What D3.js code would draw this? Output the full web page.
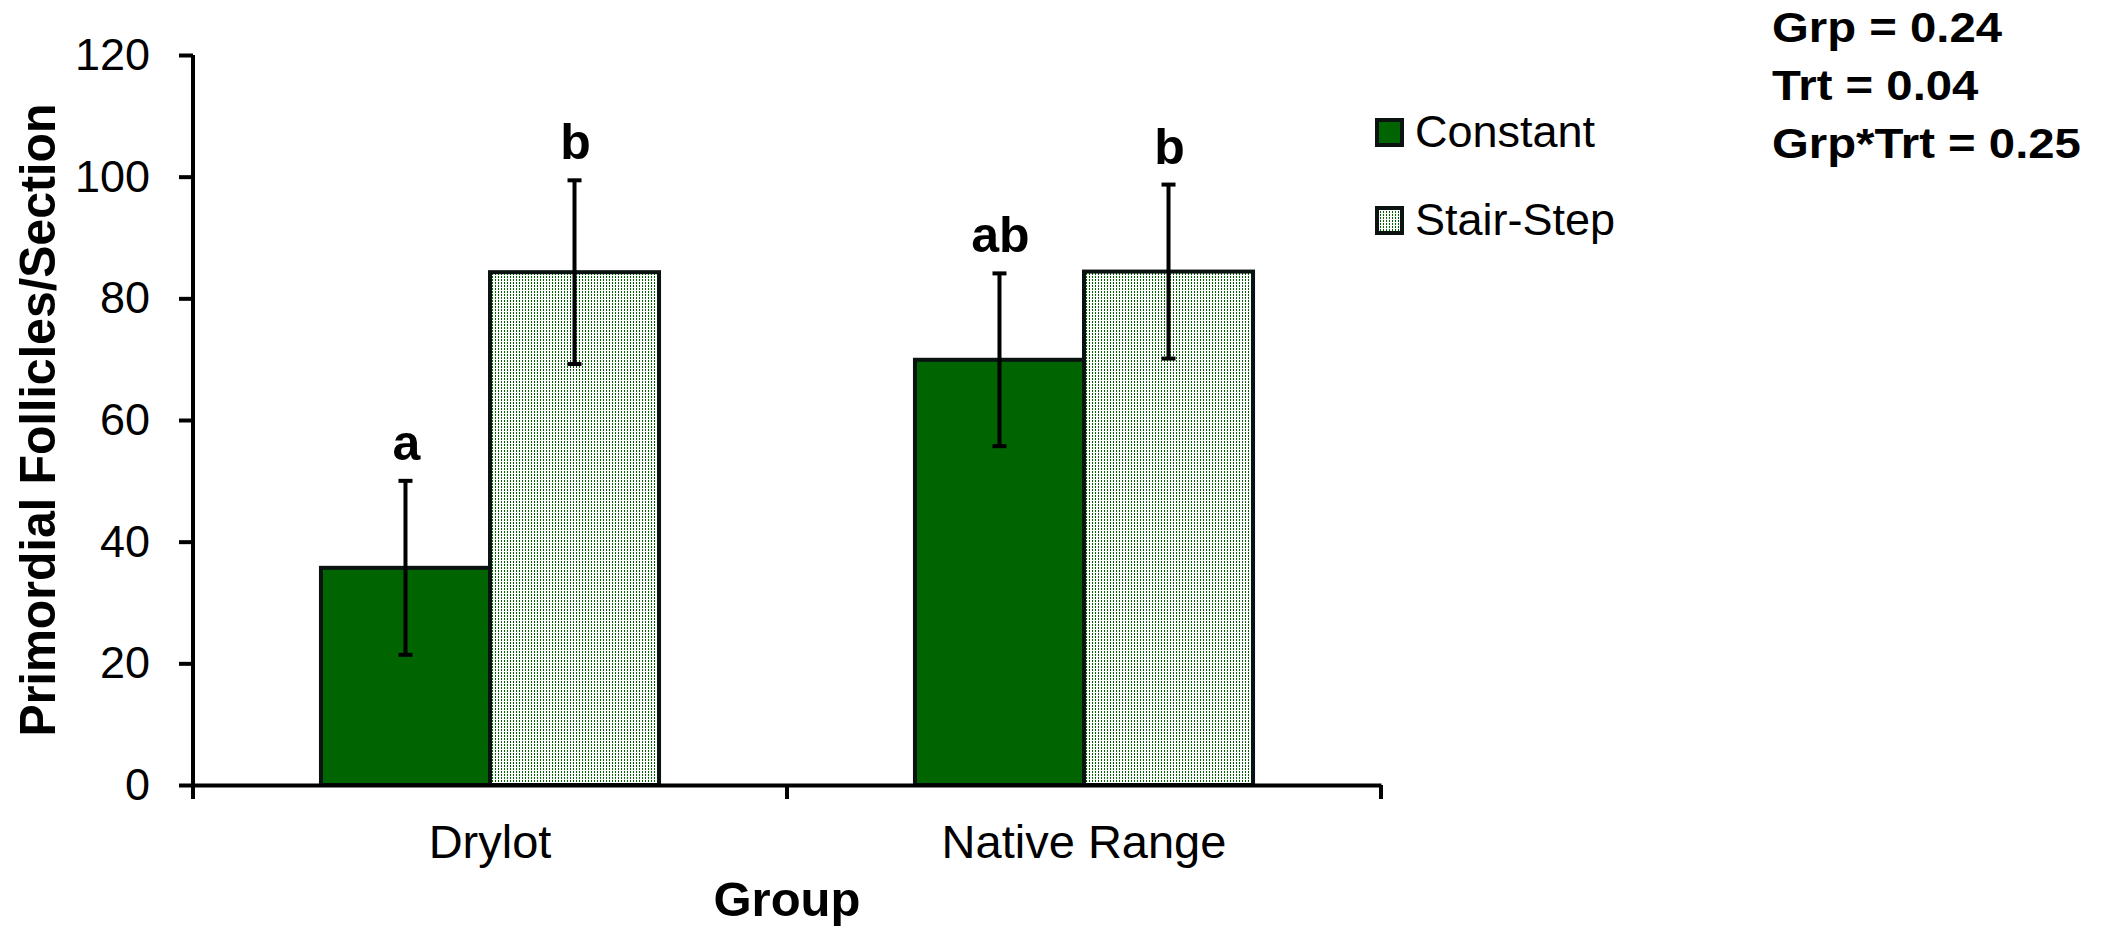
<!DOCTYPE html>
<html>
<head>
<meta charset="utf-8">
<script src="https://cdn.jsdelivr.net/npm/d3@7"></script>
<style>
  body { margin: 0; background: #fff; }
  text { font-family: Arial, "Liberation Sans", sans-serif; fill: #000; }
</style>
</head>
<body>
<svg id="chart" width="2111" height="930"></svg>
<script>
// data
var groups = ["Drylot", "Native Range"];
var series = ["Constant", "Stair-Step"];
var constantMeans = [35.7, 69.9];
var constantSE = [14.3, 14.2];
var stairMeans = [84.3, 84.4];
var stairSE = [15.1, 14.3];
var letters = [["a", "b"], ["ab", "b"]];
var yTicks = [0, 20, 40, 60, 80, 100, 120];
var stats = ["Grp = 0.24", "Trt = 0.04", "Grp*Trt = 0.25"];

var green = "#006400";

svg = d3.select("#chart");

// dotted fill for the stair-step bars
defs = svg.append("defs");
pat = defs.append("pattern")
    .attr("id", "dots")
    .attr("patternUnits", "userSpaceOnUse")
    .attr("width", 3).attr("height", 3);
pat.append("rect").attr("width", 3).attr("height", 3).attr("fill", "#fff");
pat.append("rect").attr("width", 1).attr("height", 2).attr("fill", green);

var y = d3.scaleLinear().domain([0, 120]).range([785, 55]);
var x0 = d3.scaleBand().domain(groups).range([193, 1381]).padding(0);
var x1 = d3.scaleBand().domain(series).range([0, x0.bandwidth()])
    .paddingInner(0).paddingOuter(0.757);

// flatten into one row per bar
var data = [];
groups.forEach(function(g, i) {
  data.push({ g: g, s: series[0], v: constantMeans[i], se: constantSE[i], lab: letters[i][0] });
  data.push({ g: g, s: series[1], v: stairMeans[i], se: stairSE[i], lab: letters[i][1] });
});
var fillFor = function(s) { return s == "Constant" ? green : "url(#dots)"; };
var cx = function(d) { return x0(d.g) + x1(d.s) + x1.bandwidth() / 2; };

// bars
svg.selectAll("rect.bar").data(data).enter().append("rect")
    .classed("bar", true)
    .attr("x", function(d) { return x0(d.g) + x1(d.s); })
    .attr("y", function(d) { return y(d.v); })
    .attr("width", x1.bandwidth())
    .attr("height", function(d) { return y(0) - y(d.v); })
    .attr("fill", function(d) { return fillFor(d.s); })
    .attr("stroke", "#0a1212")
    .attr("stroke-width", 4);

// error bars
err = svg.append("g").attr("stroke", "#000").attr("stroke-width", 4);
err.selectAll("line.stem").data(data).enter().append("line")
    .attr("x1", cx).attr("x2", cx)
    .attr("y1", function(d) { return y(d.v + d.se); })
    .attr("y2", function(d) { return y(d.v - d.se); });
[1, -1].forEach(function(sign) {
  err.selectAll("line.cap" + sign).data(data).enter().append("line")
      .attr("x1", function(d) { return cx(d) - 7; })
      .attr("x2", function(d) { return cx(d) + 7; })
      .attr("y1", function(d) { return y(d.v + sign * d.se); })
      .attr("y2", function(d) { return y(d.v + sign * d.se); });
});

// significance letters
svg.selectAll("text.letter").data(data).enter().append("text")
    .attr("x", function(d) { return cx(d) + 1; })
    .attr("y", function(d) { return y(d.v + d.se) - 21; })
    .attr("text-anchor", "middle")
    .attr("font-weight", "bold")
    .attr("font-size", 50)
    .text(function(d) { return d.lab; });

// y axis
yAxis = svg.append("g")
    .attr("transform", "translate(193,0)")
    .call(d3.axisLeft(y).tickValues(yTicks).tickSize(14).tickSizeOuter(0).tickPadding(29));
yAxis.selectAll("path, line").attr("stroke", "#000").attr("stroke-width", 4);
yAxis.select(".domain").attr("d", "M0," + y(120) + "V" + y(0));
yAxis.selectAll("text").attr("font-size", 45).attr("font-family", "Arial, 'Liberation Sans', sans-serif").attr("fill", "#000");

// x axis: labels centred in bands, ticks on band edges
xAxis = svg.append("g")
    .attr("transform", "translate(0," + y(0) + ")")
    .call(d3.axisBottom(x0).tickSize(0).tickPadding(40));
xAxis.select(".domain").attr("stroke", "#000").attr("stroke-width", 4);
xAxis.selectAll("text").attr("font-size", 47).attr("font-family", "Arial, 'Liberation Sans', sans-serif").attr("fill", "#000")
    .attr("dy", "0.71em");
var edges = [x0(groups[0])].concat(groups.map(function(g) { return x0(g) + x0.bandwidth(); }));
xAxis.selectAll("line.edge").data(edges).enter().append("line")
    .attr("x1", function(d) { return d; }).attr("x2", function(d) { return d; })
    .attr("y1", 0).attr("y2", 14)
    .attr("stroke", "#000").attr("stroke-width", 4);

// axis titles
svg.append("text")
    .attr("transform", "translate(55," + (y(0) + y(120)) / 2 + ") rotate(-90)")
    .attr("text-anchor", "middle")
    .attr("font-weight", "bold")
    .attr("font-size", 50)
    .attr("textLength", 633)
    .attr("lengthAdjust", "spacingAndGlyphs")
    .text("Primordial Follicles/Section");
svg.append("text")
    .attr("x", (x0.range()[0] + x0.range()[1]) / 2)
    .attr("y", 916)
    .attr("text-anchor", "middle")
    .attr("font-weight", "bold")
    .attr("font-size", 49)
    .text("Group");

// legend
legend = svg.selectAll("g.legend").data(series).enter().append("g")
    .classed("legend", true)
    .attr("transform", function(d, i) { return "translate(1377," + (120 + i * 88) + ")"; });
legend.append("rect")
    .attr("width", 25).attr("height", 25)
    .attr("fill", function(d) { return fillFor(d); })
    .attr("stroke", "#0a1212").attr("stroke-width", 4);
legend.append("text")
    .attr("x", 38).attr("y", 27)
    .attr("font-size", 45)
    .text(function(d) { return d; });

// p-values, a little wider than plain Arial in the original
svg.selectAll("text.stat").data(stats).enter().append("text")
    .attr("x", 1772)
    .attr("y", function(d, i) { return 42 + i * 58; })
    .attr("font-weight", "bold")
    .attr("font-size", 43)
    .text(function(d) { return d; })
    .each(function() {
      var w = this.getComputedTextLength();
      d3.select(this).attr("textLength", w * 1.1).attr("lengthAdjust", "spacingAndGlyphs");
    });
</script>
</body>
</html>
